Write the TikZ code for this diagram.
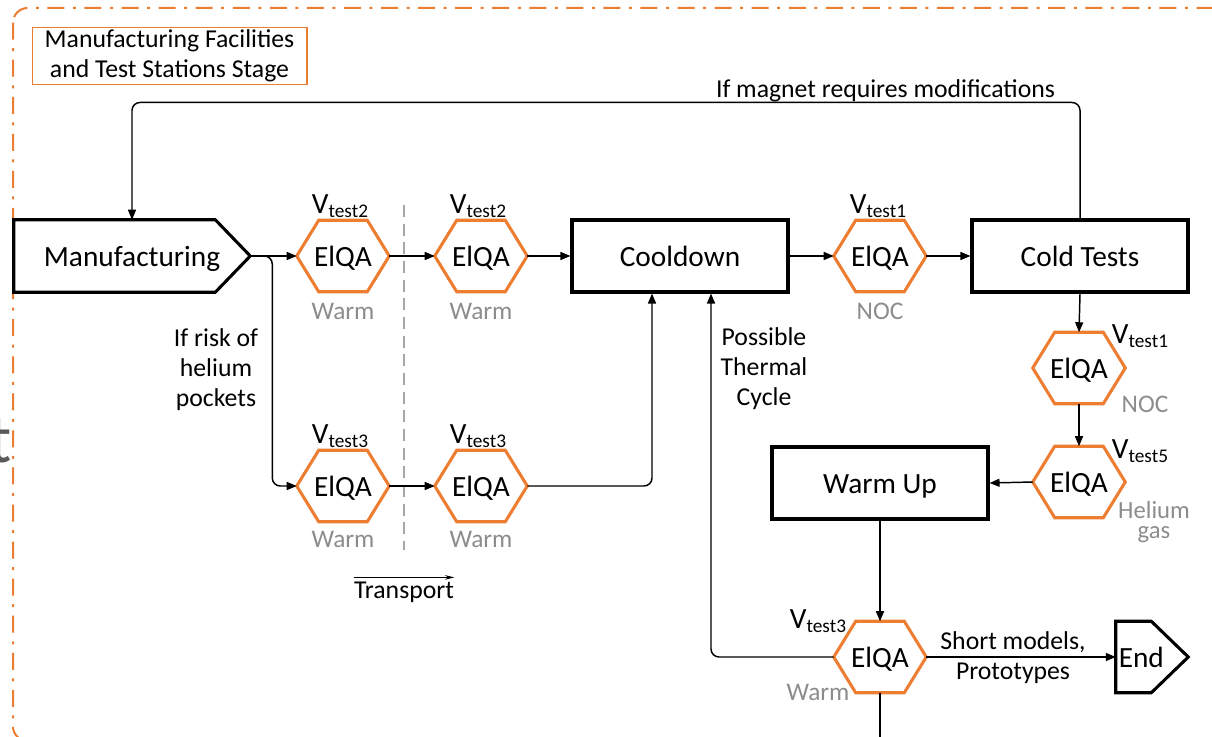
\documentclass[tikz,border=0pt]{standalone}
\usepackage{fontspec}
\setmainfont{Carlito}
\usetikzlibrary{arrows.meta}
\definecolor{hexorange}{HTML}{ED7D31}
\definecolor{lblgrey}{HTML}{8C8C8C}
\definecolor{dashgrey}{HTML}{A6A6A6}
\definecolor{fraggrey}{HTML}{595959}
\newcommand\hexshape[1]{\draw[hexline] (#1.west) -- ([xshift=16.5pt]#1.north west) -- ([xshift=-16.5pt]#1.north east) -- (#1.east) -- ([xshift=-16.5pt]#1.south east) -- ([xshift=16.5pt]#1.south west) -- cycle;}
\newcommand\vtlab[1]{V\raisebox{-3pt}{\fontsize{14.5}{15}\selectfont test#1}}
\begin{document}
\begin{tikzpicture}[x=0.75pt,y=-0.75pt,
  bigfont/.style={font=\fontsize{22}{26}\selectfont},
  box/.style={draw, line width=2.3pt, minimum width=162pt, minimum height=54pt, inner sep=0pt, bigfont, text height=16pt, text depth=0pt},
  hexbox/.style={minimum width=69pt, minimum height=53.25pt, inner sep=0pt, bigfont, text height=16pt, text depth=0pt},
  hexline/.style={draw=hexorange, line width=2.3pt, line join=miter},
  shapeline/.style={draw, line width=2.3pt, line join=miter},
  conn/.style={line width=1.1pt, rounded corners=6pt},
  arr/.style={conn, -{Triangle[length=7.5pt,width=6pt]}},
  lab/.style={font=\fontsize{19.3}{22.5}\selectfont, align=center, inner sep=0pt},
  greylab/.style={font=\fontsize{19}{22.5}\selectfont, text=lblgrey, inner sep=0pt, anchor=base},
  vlab/.style={bigfont, inner sep=0pt, anchor=base},
  frame/.style={draw=hexorange, line width=1.5pt, rounded corners=11pt, dash pattern=on 12.75pt off 6.4pt on 2.25pt off 6.4pt}
]
\useasboundingbox (0,0) rectangle (1212,737);
\clip (0,0) rectangle (1212,737);

% outer frame
\draw[frame] (13,8) rectangle (1250,741);

% cut-off text fragment at left edge
\node[anchor=base east, inner sep=0pt, font=\fontsize{52}{52}\selectfont, text=fraggrey] (frag) at (12,462) {t};

% title
\node[draw=hexorange, line width=1pt, minimum width=206pt, minimum height=42.75pt, lab] (title) at (169.5,56) {Manufacturing Facilities\\and Test Stations Stage};

% main nodes
\node[hexbox, minimum width=177pt, minimum height=54pt] (manu) at (132,256) {Manufacturing};
\draw[shapeline] (manu.north west) -- ([xshift=-26.25pt]manu.north east) -- (manu.east) -- ([xshift=-26.25pt]manu.south east) -- (manu.south west) -- cycle;

\node[hexbox] (h1) at (343,256) {ElQA}; \hexshape{h1}
\node[hexbox] (h2) at (481,256) {ElQA}; \hexshape{h2}
\node[box] (cool) at (680,256) {Cooldown};
\node[hexbox] (h3) at (880,256) {ElQA}; \hexshape{h3}
\node[box] (cold) at (1080,256) {Cold Tests};
\node[hexbox] (h4) at (1079,368) {ElQA}; \hexshape{h4}
\node[hexbox] (h5) at (1079,482) {ElQA}; \hexshape{h5}
\node[box] (warm) at (880,483) {Warm Up};
\node[hexbox] (h6) at (880,657) {ElQA}; \hexshape{h6}
\node[hexbox] (h7) at (343,486) {ElQA}; \hexshape{h7}
\node[hexbox] (h8) at (481,486) {ElQA}; \hexshape{h8}

\node[hexbox, minimum width=54pt] (endn) at (1152,657) {\hspace*{-16pt}End};
\draw[shapeline] (endn.north west) -- ([xshift=-27.75pt]endn.north east) -- (endn.east) -- ([xshift=-27.75pt]endn.south east) -- (endn.south west) -- cycle;

% voltage labels
\node[vlab] (v1) at (340,214) {\vtlab{2}};
\node[vlab] (v2) at (478,214) {\vtlab{2}};
\node[vlab] (v3) at (878,214) {\vtlab{1}};
\node[vlab] (v4) at (1140,344) {\vtlab{1}};
\node[vlab] (v5) at (1140,458) {\vtlab{5}};
\node[vlab] (v6) at (818,628) {\vtlab{3}};
\node[vlab] (v7) at (340,443) {\vtlab{3}};
\node[vlab] (v8) at (478,443) {\vtlab{3}};

% condition labels
\node[greylab] (w1) at (343,320) {Warm};
\node[greylab] (w2) at (481,320) {Warm};
\node[greylab] (n3) at (880,320) {NOC};
\node[greylab] (n4) at (1145,412) {NOC};
\node[greylab, align=center, font=\fontsize{18.5}{15}\selectfont] (he5) at (1154,538) {Helium\\gas};
\node[greylab] (w6) at (818,700) {Warm};
\node[greylab] (w7) at (343,547) {Warm};
\node[greylab] (w8) at (481,547) {Warm};

% text labels
\node[lab] (lmod) at (885.5,91) {If magnet requires modifications};
\node[lab] (lrisk) at (216,370) {If risk of\\helium\\pockets};
\node[lab] (ltherm) at (764,369) {Possible\\Thermal\\Cycle};
\node[lab] (lshort) at (1013,658) {Short models,\\Prototypes};
\node[lab] (ltrans) at (404,592) {Transport};

% transport arrow and separator
\draw[line width=0.7pt, -{Stealth[length=7pt,width=3.5pt]}] ([yshift=3pt]ltrans.north west) -- ([yshift=3pt]ltrans.north east);
\draw[dashgrey, line width=1.5pt, dash pattern=on 9pt off 5pt] (404,205) -- (404,550);

% connectors
\draw[arr] (manu.east) -- (h1.west);
\draw[arr] (h1.east) -- (h2.west);
\draw[arr] (h2.east) -- (cool.west);
\draw[arr] (cool.east) -- (h3.west);
\draw[arr] (h3.east) -- (cold.west);
\draw[arr] (cold.south) -- (h4.north);
\draw[arr] (h4.south) -- (h5.north);
\draw[arr] (h5.west) -- (warm.east);
\draw[arr] (warm.south) -- (h6.north);
\draw[arr] (h6.east) -- (endn.west);
\coordinate (bottomend) at (880,760);
\draw[conn] (h6.south) -- (bottomend);
\draw[arr] (h6.west) -| ([xshift=23.25pt]cool.south);
\draw[arr] (cold.north) -- ++(0,-116) -| (manu.north);
\draw[arr] (manu.east) -- ++(22,0) |- (h7.west);
\draw[arr] (h7.east) -- (h8.west);
\draw[arr] (h8.east) -| ([xshift=-21pt]cool.south);
\end{tikzpicture}
\end{document}
